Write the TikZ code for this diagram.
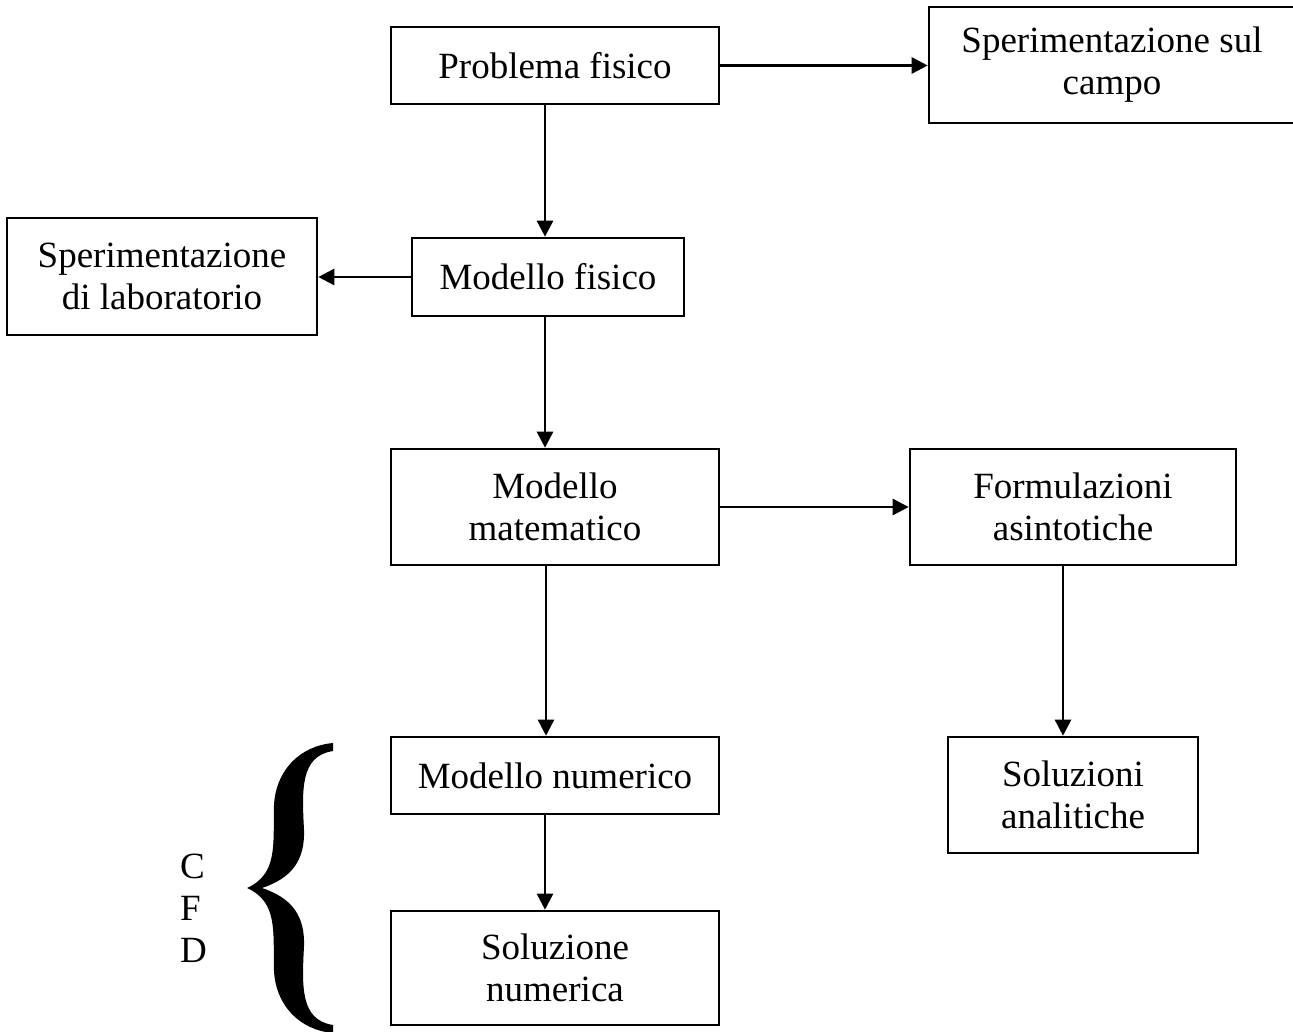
\documentclass[tikz,border=0pt]{standalone}
\usepackage{fontspec}
\setmainfont{Liberation Serif}
\usetikzlibrary{arrows.meta}
\begin{document}
\begin{tikzpicture}[x=1pt,y=-1pt,
  box/.style={draw, line width=2.6pt, rectangle, inner sep=0pt, align=center,
    font=\fontsize{37}{42}\selectfont},
  arr/.style={line width=2.6pt, -{Triangle[length=16pt,width=16pt]}},
  lbl/.style={inner sep=0pt, align=left, font=\fontsize{37}{42}\selectfont}]
\useasboundingbox (0,0) rectangle (1293,1032);
% boxes
\node[box, minimum width=328pt, minimum height=77pt] (A) at (555,65.5) {Problema fisico};
\node[box, minimum width=366pt, minimum height=116pt] (S1) at (1112,65) {Sperimentazione sul\\campo};
\node[box, minimum width=310pt, minimum height=117pt] (L) at (162,276.5) {Sperimentazione\\di laboratorio};
\node[box, minimum width=272pt, minimum height=78pt] (MF) at (548,277) {Modello fisico};
\node[box, minimum width=328pt, minimum height=116pt] (MM) at (555,507) {Modello\\matematico};
\node[box, minimum width=326pt, minimum height=116pt] (FA) at (1073,507) {Formulazioni\\asintotiche};
\node[box, minimum width=328pt, minimum height=77pt] (MN) at (555,775.5) {Modello numerico};
\node[box, minimum width=328pt, minimum height=114pt] (SN) at (555,968) {Soluzione\\numerica};
\node[box, minimum width=250pt, minimum height=116pt] (SA) at (1073,795) {Soluzioni\\analitiche};
% arrow columns
\coordinate (c1) at (545,0);
\coordinate (c2) at (546,0);
\coordinate (c3) at (1063,0);
% connectors
\draw[arr] (A.east) -- (A.east -| S1.west);
\draw[arr] (A.south -| c1) -- (MF.north -| c1);
\draw[arr] (MF.west) -- (MF.west -| L.east);
\draw[arr] (MF.south -| c1) -- (MM.north -| c1);
\draw[arr] (MM.east) -- (MM.east -| FA.west);
\draw[arr] (MM.south -| c2) -- (MN.north -| c2);
\draw[arr] (FA.south -| c3) -- (SA.north -| c3);
\draw[arr] (MN.south -| c1) -- (SN.north -| c1);
% brace
\fill (333,743) .. controls (300,746) and (276,770) .. (274,805)
  .. controls (273,845) and (278,874) .. (247,888)
  .. controls (278,902) and (273,931) .. (274,971)
  .. controls (276,1006) and (300,1030) .. (333,1033)
  -- (333,1025)
  .. controls (300,1020) and (302,986) .. (304,946)
  .. controls (305,916) and (292,898) .. (262,888)
  .. controls (292,878) and (305,860) .. (304,830)
  .. controls (302,790) and (300,756) .. (333,751) -- cycle;
\node[lbl, anchor=west] (cfd) at (180,908) {C\\F\\D};
\end{tikzpicture}
\end{document}
